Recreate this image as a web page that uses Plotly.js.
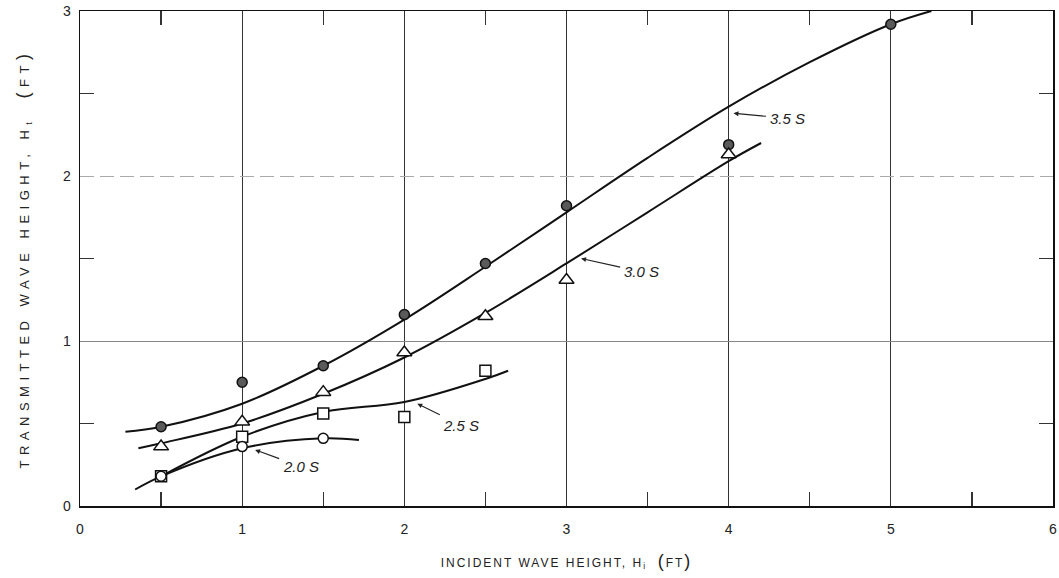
<!DOCTYPE html>
<html>
<head>
<meta charset="utf-8">
<script src="https://cdn.plot.ly/plotly-3.0.1.min.js"></script>
<style>html,body{margin:0;padding:0;background:#fff;}</style>
</head>
<body>
<div id="chart" style="width:1059px;height:578px;"></div>
<script>
// Measured points
const x35 = [0.5, 1, 1.5, 2, 2.5, 3, 4, 5];
const y35 = [0.48, 0.75, 0.85, 1.16, 1.47, 1.82, 2.19, 2.92];
const x30 = [0.5, 1, 1.5, 2, 2.5, 3, 4];
const y30 = [0.36, 0.51, 0.69, 0.93, 1.15, 1.37, 2.13];
const x25 = [0.5, 1, 1.5, 2, 2.5];
const y25 = [0.18, 0.42, 0.56, 0.54, 0.82];
const x20 = [0.5, 1, 1.5];
const y20 = [0.18, 0.36, 0.41];

// Faired curves
const cx35 = [0.28, 0.5, 1, 1.5, 2, 2.5, 3, 3.5, 4, 4.5, 5, 5.25];
const cy35 = [0.45, 0.48, 0.62, 0.85, 1.13, 1.45, 1.78, 2.11, 2.42, 2.69, 2.92, 3.0];
const cx30 = [0.36, 0.5, 1, 1.5, 2, 2.5, 3, 3.5, 4, 4.2];
const cy30 = [0.35, 0.38, 0.50, 0.68, 0.90, 1.17, 1.47, 1.78, 2.09, 2.2];
const cx25 = [0.5, 1, 1.5, 2, 2.5, 2.64];
const cy25 = [0.18, 0.42, 0.57, 0.63, 0.77, 0.82];
const cx20 = [0.34, 0.5, 1, 1.5, 1.72];
const cy20 = [0.10, 0.18, 0.35, 0.41, 0.40];

// Curve labels
const labels = ["3.5 S", "3.0 S", "2.5 S", "2.0 S"];
const labelTipX = [4.03, 3.09, 2.08, 1.08];
const labelTipY = [2.38, 1.50, 0.62, 0.34];
const labelTextX = [4.36, 3.46, 2.35, 1.36];
const labelTextY = [2.35, 1.42, 0.49, 0.24];

const xTicks = [0, 1, 2, 3, 4, 5, 6];
const yTicks = [0, 1, 2, 3];

const curveLine = {color: '#111', width: 2, shape: 'spline', smoothing: 1};
const traces = [
  {x: [], y: [], yaxis: 'y2', mode: 'lines', hoverinfo: 'skip'},
  {x: [], y: [], yaxis: 'y3', mode: 'lines', hoverinfo: 'skip'},
  {x: cx35, y: cy35, mode: 'lines', line: curveLine, hoverinfo: 'skip'},
  {x: cx30, y: cy30, mode: 'lines', line: curveLine, hoverinfo: 'skip'},
  {x: cx25, y: cy25, mode: 'lines', line: curveLine, hoverinfo: 'skip'},
  {x: cx20, y: cy20, mode: 'lines', line: curveLine, hoverinfo: 'skip'},
  {x: x35, y: y35, mode: 'markers', marker: {symbol: 'circle', size: 10, color: '#5a5a5a', line: {color: '#111', width: 1.5}}},
  {x: x30, y: y30, mode: 'markers', marker: {symbol: 'triangle-up', size: 13, color: '#fff', line: {color: '#111', width: 1.5}}},
  {x: x25, y: y25, mode: 'markers', marker: {symbol: 'square', size: 11, color: '#fff', line: {color: '#111', width: 1.5}}},
  {x: x20, y: y20, mode: 'markers', marker: {symbol: 'circle', size: 10, color: '#fff', line: {color: '#111', width: 1.5}}}
];

const annFont = {family: 'Liberation Sans Narrow, Liberation Sans, Arial', size: 15, color: '#222', style: 'italic'};
const annotations = labels.map((t, i) => ({
  x: labelTipX[i], y: labelTipY[i], xref: 'x', yref: 'y',
  ax: labelTextX[i], ay: labelTextY[i], axref: 'x', ayref: 'y',
  text: t, showarrow: true, arrowhead: 2, arrowsize: 0.9, arrowwidth: 1.1,
  arrowcolor: '#222', standoff: 0, startstandoff: 2, font: annFont
}));

const tickFont = {family: 'Liberation Sans Narrow, Liberation Sans, Arial', size: 14, color: '#222'};
const titleParen = s => '<span style="font-size:18px">' + s + '</span>';
const layout = {
  width: 1059, height: 578,
  margin: {l: 80, r: 6, t: 11, b: 72},
  paper_bgcolor: '#fff', plot_bgcolor: '#fff',
  showlegend: false,
  font: {family: 'Liberation Sans, Arial', color: '#222'},
  xaxis: {
    range: [0, 6], tickvals: xTicks, ticktext: xTicks.map(String),
    showgrid: true, gridcolor: '#333', gridwidth: 1,
    zeroline: false, showline: true, linecolor: '#111', linewidth: 1.5, mirror: 'allticks',
    ticks: '', ticklabelstandoff: 10, tickfont: tickFont,
    minor: {tickvals: [0.5, 1.5, 2.5, 3.5, 4.5, 5.5], ticks: 'inside', ticklen: 14, tickcolor: '#333', tickwidth: 1.2, showgrid: false},
    title: {text: 'INCIDENT WAVE HEIGHT, H<sub>i</sub>  ' + titleParen('(') + 'FT' + titleParen(')'), font: {family: 'Liberation Sans, Arial', size: 12, color: '#222'}, standoff: 22},
    automargin: false
  },
  yaxis: {
    range: [0, 3], tickvals: yTicks, ticktext: yTicks.map(String),
    showgrid: false,
    zeroline: false, showline: true, linecolor: '#111', linewidth: 1.5, mirror: 'allticks',
    ticks: '', ticklabelstandoff: 5, tickfont: tickFont,
    minor: {tickvals: [0.5, 1.5, 2.5], ticks: 'inside', ticklen: 14, tickcolor: '#333', tickwidth: 1.2, showgrid: false},
    title: {text: 'TRANSMITTED WAVE HEIGHT, H<sub>t</sub>  ' + titleParen('(') + 'FT' + titleParen(')'), font: {family: 'Liberation Sans, Arial', size: 13, color: '#222'}, standoff: 30},
    automargin: false
  },
  yaxis2: {
    range: [0, 3], overlaying: 'y', anchor: 'x', side: 'left',
    tickvals: [1], showticklabels: false, ticks: '',
    showgrid: true, gridcolor: '#888', gridwidth: 1, zeroline: false, showline: false
  },
  yaxis3: {
    range: [0, 3], overlaying: 'y', anchor: 'x', side: 'left',
    tickvals: [2], showticklabels: false, ticks: '',
    showgrid: true, gridcolor: '#aaa', gridwidth: 1, griddash: '14px,6px', zeroline: false, showline: false
  },
  annotations: annotations
};

Plotly.newPlot('chart', traces, layout, {displayModeBar: false, staticPlot: true}).then(() => {
  document.querySelectorAll('.g-ytitle text').forEach(el => el.style.letterSpacing = '5.5px');
  document.querySelectorAll('.g-xtitle text').forEach(el => el.style.letterSpacing = '2px');
});
</script>
</body>
</html>
